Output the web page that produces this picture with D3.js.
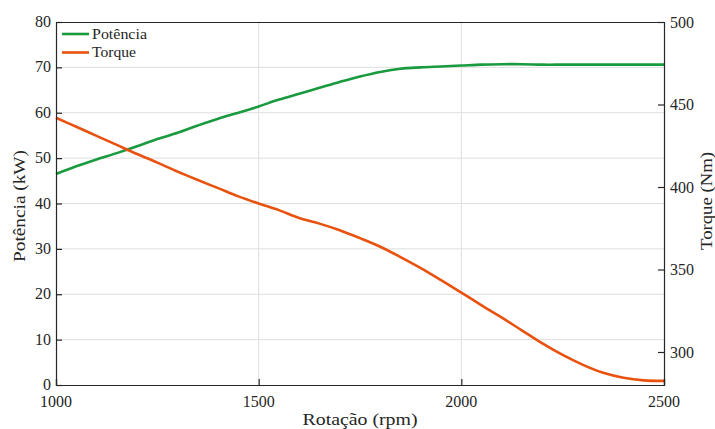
<!DOCTYPE html>
<html>
<head>
<meta charset="utf-8">
<script src="https://cdn.jsdelivr.net/npm/d3@7"></script>
<style>
  body { margin: 0; background: #fff; }
</style>
</head>
<body>
<svg id="chart" width="715" height="429"></svg>
<script>
const rpm = [1000,1050,1100,1150,1200,1250,1300,1350,1400,1450,1500,1550,1600,1650,1700,1750,1800,1850,1900,1950,2000,2050,2100,2150,2200,2250,2300,2350,2400,2450,2500];
const potencia = [46.5,48.2,49.7,51.1,52.6,54.2,55.6,57.2,58.7,60.0,61.4,62.9,64.2,65.5,66.8,68.0,69.0,69.7,70.0,70.2,70.4,70.6,70.7,70.7,70.6,70.6,70.6,70.6,70.6,70.6,70.6];
const torque = [442,436.5,431,425.5,420,414.8,409.3,404.2,399.3,394.3,390,386,381.2,377.8,373.8,369,363.8,357.5,350.8,343.5,336,328.3,320.8,313,305.2,298.2,292.2,287.4,284.4,282.8,282.5];
const xTicks = [1000,1500,2000,2500];
const yLeftTicks = [0,10,20,30,40,50,60,70,80];
const yRightTicks = [300,350,400,450,500];
const seriesNames = ["Potência","Torque"];
const colors = ["#1a9a3f","#e8520e"];

const FONT = "'Liberation Serif', 'DejaVu Serif', serif";
const m = {left:56, right:664, top:22, bottom:385};
const svg = d3.select("#chart");
const x = d3.scaleLinear().domain([1000,2500]).range([m.left,m.right]);
const yL = d3.scaleLinear().domain([0,80]).range([m.bottom,m.top]);
const yR = d3.scaleLinear().domain([280,500]).range([m.bottom,m.top]);

// grid
const grid = svg.append("g");
grid.selectAll("line.h").data(yLeftTicks.slice(1,-1)).join("line")
  .attr("x1",m.left).attr("x2",m.right).attr("y1",d=>yL(d)).attr("y2",d=>yL(d))
  .attr("stroke","#dedede").attr("stroke-width",1);
grid.selectAll("line.v").data(xTicks.slice(1,-1)).join("line")
  .attr("y1",m.top).attr("y2",m.bottom).attr("x1",d=>x(d)).attr("x2",d=>x(d))
  .attr("stroke","#dedede").attr("stroke-width",1);

// lines
const lineP = d3.line().x((d,i)=>x(rpm[i])).y(d=>yL(d)).curve(d3.curveCatmullRom.alpha(0.5));
const lineT = d3.line().x((d,i)=>x(rpm[i])).y(d=>yR(d)).curve(d3.curveCatmullRom.alpha(0.5));
svg.append("path").datum(potencia).attr("d",lineP).attr("fill","none").attr("stroke",colors[0]).attr("stroke-width",2.6);
svg.append("path").datum(torque).attr("d",lineT).attr("fill","none").attr("stroke",colors[1]).attr("stroke-width",2.6);

// axes (inward ticks)
const ax = "#262626";
const gL = svg.append("g").attr("transform",`translate(${m.left},0)`)
  .call(d3.axisRight(yL).tickValues(yLeftTicks).tickSize(6).tickFormat(""));
const gR = svg.append("g").attr("transform",`translate(${m.right},0)`)
  .call(d3.axisLeft(yR).tickValues(yRightTicks).tickSize(6).tickFormat(""));
const gB = svg.append("g").attr("transform",`translate(0,${m.bottom})`)
  .call(d3.axisTop(x).tickValues(xTicks).tickSize(6).tickFormat(""));
const gT = svg.append("g").attr("transform",`translate(0,${m.top})`)
  .call(d3.axisBottom(x).tickValues([]).tickSize(0).tickFormat(""));
[gL,gR,gB,gT].forEach(g=>{
  g.select(".domain").attr("stroke",ax).attr("stroke-width",1.2);
  g.selectAll(".tick line").attr("stroke",ax).attr("stroke-width",1.2);
});

function txt(sel){ return sel.attr("font-family",FONT).attr("fill","#262626"); }

// tick labels
txt(svg.append("g").selectAll("text").data(yLeftTicks).join("text")
  .attr("x",m.left-5).attr("y",d=>yL(d)+5).attr("text-anchor","end")
  .attr("font-size",16).text(d=>d));
txt(svg.append("g").selectAll("text").data(yRightTicks).join("text")
  .attr("x",m.right+6).attr("y",d=>yR(d)+5.5).attr("text-anchor","start")
  .attr("font-size",16).text(d=>d));
txt(svg.append("g").selectAll("text").data(xTicks).join("text")
  .attr("x",d=>x(d)).attr("y",m.bottom+22).attr("text-anchor","middle")
  .attr("font-size",16).text(d=>d));

// axis titles
txt(svg.append("text").attr("x",360).attr("y",425).attr("text-anchor","middle").attr("font-size",17)
  .attr("textLength",115).attr("lengthAdjust","spacingAndGlyphs").text("Rotação (rpm)"));
txt(svg.append("text").attr("transform","translate(25,206) rotate(-90)").attr("text-anchor","middle").attr("font-size",17)
  .attr("textLength",112).attr("lengthAdjust","spacingAndGlyphs").text("Potência (kW)"));
txt(svg.append("text").attr("transform","translate(712,201) rotate(-90)").attr("text-anchor","middle").attr("font-size",17)
  .attr("textLength",98).attr("lengthAdjust","spacingAndGlyphs").text("Torque (Nm)"));

// legend
const leg = svg.append("g");
const legW = [55, 44];
seriesNames.forEach((n,i)=>{
  const yy = 34 + i*18.5;
  leg.append("line").attr("x1",62).attr("x2",89).attr("y1",yy).attr("y2",yy).attr("stroke",colors[i]).attr("stroke-width",2.6);
  txt(leg.append("text").attr("x",92).attr("y",yy+4.5).attr("font-size",14)
    .attr("textLength",legW[i]).attr("lengthAdjust","spacingAndGlyphs").text(n));
});
</script>
</body>
</html>
